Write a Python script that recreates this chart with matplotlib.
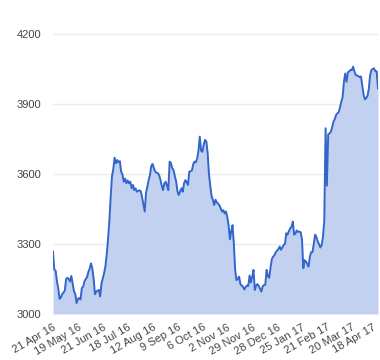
import matplotlib
matplotlib.use("Agg")
import matplotlib.pyplot as plt
import matplotlib.transforms as mtransforms
import numpy as np

tick_labels = ["21 Apr 16", "19 May 16", "21 Jun 16", "18 Jul 16", "12 Aug 16", "9 Sep 16",
               "6 Oct 16", "2 Nov 16", "29 Nov 16", "28 Dec 16", "25 Jan 17", "21 Feb 17",
               "20 Mar 17", "18 Apr 17"]
sessions_per_tick = 19

values = [
    3267, 3190, 3186, 3140, 3111, 3065, 3070, 3085, 3092, 3100,
    3150, 3155, 3150, 3139, 3163, 3130, 3098, 3085, 3047, 3065,
    3068, 3062, 3111, 3117, 3140, 3150, 3158, 3181, 3195, 3217,
    3196, 3150, 3085, 3096, 3100, 3103, 3075, 3131, 3154, 3175,
    3205, 3255, 3320, 3400, 3500, 3590, 3620, 3670, 3646, 3660,
    3650, 3655, 3610, 3598, 3567, 3580, 3560, 3572, 3560, 3567,
    3539, 3553, 3531, 3538, 3524, 3528, 3530, 3526, 3500, 3470,
    3439, 3520, 3545, 3575, 3595, 3635, 3643, 3625, 3610, 3606,
    3603, 3595, 3575, 3550, 3531, 3560, 3567, 3550, 3531, 3653,
    3646, 3625, 3617, 3590, 3567, 3525, 3510, 3525, 3539, 3524,
    3560, 3574, 3565, 3553, 3610, 3612, 3615, 3642, 3653, 3650,
    3665, 3700, 3760, 3700, 3695, 3725, 3746, 3740, 3690, 3600,
    3550, 3505, 3489, 3467, 3490, 3478, 3474, 3465, 3453, 3439,
    3445, 3431, 3439, 3415, 3380, 3320, 3355, 3381, 3300, 3190,
    3145, 3150, 3160, 3128, 3122, 3117, 3105, 3115, 3122, 3120,
    3165, 3135, 3160, 3189, 3103, 3122, 3128, 3120, 3108, 3096,
    3118, 3124, 3125, 3189, 3162, 3155, 3200, 3235, 3246, 3252,
    3265, 3272, 3278, 3289, 3275, 3285, 3296, 3300, 3346, 3340,
    3355, 3367, 3374, 3396, 3340, 3345, 3358, 3352, 3353, 3350,
    3320, 3196, 3231, 3225, 3215, 3203, 3245, 3265, 3265, 3300,
    3340, 3330, 3310, 3300, 3285, 3295, 3330, 3400, 3796, 3550,
    3770, 3774, 3780, 3800, 3824, 3835, 3853, 3860, 3865, 3885,
    3910, 3930, 3995, 4031, 3995, 4035, 4040, 4046, 4045, 4060,
    4040, 4024, 4022, 4020, 4015, 4018, 3980, 3940, 3920, 3925,
    3935, 3965, 4024, 4046, 4050, 4053, 4040, 4040, 3967,
]
y_ticks = [3000, 3300, 3600, 3900, 4200]

plt.rcParams['font.family'] = ['Liberation Sans', 'DejaVu Sans']

fig = plt.figure(figsize=(3.8, 3.6), dpi=100)
ax = fig.add_axes([53/380, 46/360, 325/380, 314/360])

x = np.arange(len(values))
line_color = "#3366cc"
ax.fill_between(x, 3000, values, color="#c3d1f0", linewidth=0, zorder=2)
ax.plot(x, values, color=line_color, linewidth=1.4, zorder=3)

ax.set_xlim(0, len(values) - 1)
ax.set_ylim(3000, 3000 + 314 * 300 / 70)
ax.set_yticks(y_ticks)
ax.set_yticklabels([str(v) for v in y_ticks], fontsize=8, color="#444444")
ax.grid(axis="y", color="#ebebeb", linewidth=1, zorder=0)
ax.set_axisbelow(True)

ax.set_xticks([i * sessions_per_tick for i in range(len(tick_labels))])
ax.set_xticklabels(tick_labels, rotation=30, ha="right", rotation_mode="anchor",
                   fontsize=8, color="#444444")
ax.tick_params(axis="both", length=0)
ax.tick_params(axis="y", pad=8.5)
ax.tick_params(axis="x", pad=6)
for s in ax.spines.values():
    s.set_visible(False)

# keep the last label inside the canvas
last = ax.get_xticklabels()[-1]
last.set_transform(last.get_transform() +
                   mtransforms.ScaledTranslation(-4 / 100, 0, fig.dpi_scale_trans))

fig.savefig("out.png", dpi=100)
